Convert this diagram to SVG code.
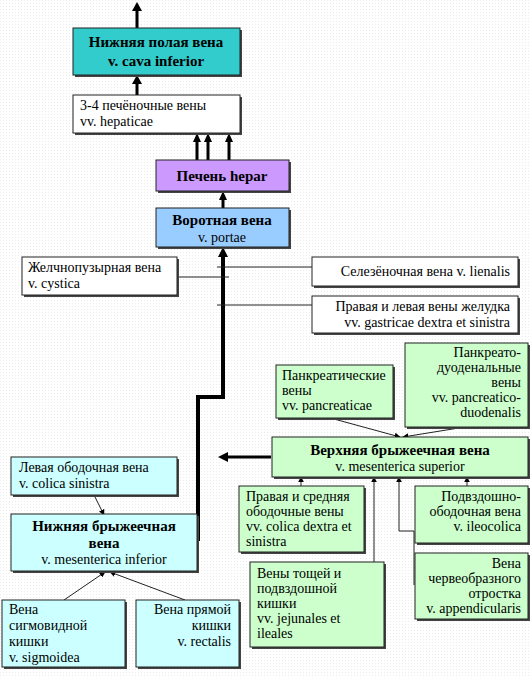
<svg xmlns="http://www.w3.org/2000/svg" width="530" height="677" viewBox="0 0 530 677">
<defs>
<pattern id="dots" width="3" height="3" patternUnits="userSpaceOnUse"><rect width="3" height="3" fill="#fff"/><rect width="1" height="1" fill="#ececec"/></pattern>
<marker id="ah" viewBox="0 0 10 10" refX="9" refY="5" markerWidth="6" markerHeight="6" markerUnits="userSpaceOnUse" orient="auto"><path d="M0,0 L10,5 L0,10 z" fill="#000"/></marker>
</defs>
<style>
.b{stroke:#222;stroke-width:1}
.sh{fill:#444}
text{font-family:'Liberation Serif','Times New Roman','DejaVu Serif',serif;fill:#000}
.t{font-size:14px}
.h{font-size:15px;font-weight:bold}
.c{text-anchor:middle}
.r{text-anchor:end}
.ln{stroke:#222;stroke-width:1;fill:none}
.tk{stroke:#000;stroke-width:4;fill:none}
.w{fill:#fff}.teal{fill:#33cccc}.lil{fill:#cc99ff}.blu{fill:#99ccff}.grn{fill:#ccffcc}.cyn{fill:#ccffff}
</style>
<rect width="530" height="677" fill="url(#dots)"/>
<g id="connectors">
<line x1="137" y1="28" x2="137" y2="10" style="stroke:#000;stroke-width:3"/>
<path d="M132,11 L137,2 L142,11 z"/>
<line x1="137" y1="96" x2="137" y2="83" style="stroke:#000;stroke-width:3"/>
<path d="M132,84 L137,75 L142,84 z"/>
<g style="stroke:#000;stroke-width:3">
<line x1="197" y1="161" x2="197" y2="141"/><line x1="208" y1="161" x2="208" y2="141"/><line x1="229" y1="161" x2="229" y2="141"/>
<line x1="223" y1="209" x2="223" y2="199"/>
</g>
<path d="M193,142 L197,133 L201,142 z M204,142 L208,133 L212,142 z M225,142 L229,133 L233,142 z M219,200 L223,191 L227,200 z"/>
<path class="tk" d="M223,256 V397 H198 V541"/>
<path d="M218,257 L223,247 L228,257 z"/>
<line class="ln" x1="177" y1="277" x2="229" y2="277"/>
<line class="ln" x1="312" y1="267" x2="217" y2="267"/>
<line class="ln" x1="312" y1="305" x2="217" y2="305"/>
<line x1="271" y1="457" x2="227" y2="457" style="stroke:#000;stroke-width:3"/>
<path d="M228,452 L218,457 L228,462 z"/>
<line class="ln" x1="334" y1="419" x2="400" y2="437" marker-end="url(#ah)"/>
<line class="ln" x1="465" y1="427" x2="403" y2="437" marker-end="url(#ah)"/>
<line class="ln" x1="301" y1="486" x2="301" y2="477" marker-end="url(#ah)"/>
<line class="ln" x1="374" y1="562" x2="374" y2="477" marker-end="url(#ah)"/>
<path class="ln" d="M414,585 V531 H399 V477" marker-end="url(#ah)"/>
<line class="ln" x1="467" y1="486" x2="467" y2="477" marker-end="url(#ah)"/>
<line class="ln" x1="95" y1="497" x2="104" y2="515" marker-end="url(#ah)"/>
<line class="ln" x1="64" y1="600" x2="105" y2="572" marker-end="url(#ah)"/>
<line class="ln" x1="185" y1="600" x2="110" y2="572" marker-end="url(#ah)"/>
</g>
<g id="ivc"><rect class="sh" x="75" y="30" width="167" height="47"/><rect class="b teal" x="73" y="28" width="167" height="47"/><text class="h c" x="156" y="47">Нижняя полая вена</text><text class="h c" x="156" y="66">v. cava inferior</text></g>
<g id="hepatic"><rect class="sh" x="75" y="97" width="167" height="38"/><rect class="b w" x="73" y="95" width="167" height="38"/><text class="t" x="80" y="110">3-4 печёночные вены</text><text class="t" x="80" y="126">vv. hepaticae</text></g>
<g id="liver"><rect class="sh" x="158" y="162" width="133" height="31"/><rect class="b lil" x="156" y="160" width="133" height="31"/><text class="h c" x="222" y="181">Печень hepar</text></g>
<g id="portal"><rect class="sh" x="158" y="210" width="133" height="39"/><rect class="b blu" x="156" y="208" width="133" height="39"/><text class="h c" x="222" y="225">Воротная вена</text><text class="t c" x="222" y="242">v. portae</text></g>
<g id="cystic"><rect class="sh" x="24" y="259" width="155" height="38"/><rect class="b w" x="22" y="257" width="155" height="38"/><text class="t" x="28" y="272">Желчнопузырная вена</text><text class="t" x="28" y="288">v. cystica</text></g>
<g id="lienal"><rect class="sh" x="314" y="259" width="206" height="29"/><rect class="b w" x="312" y="257" width="206" height="29"/><text class="t r" x="510" y="276">Селезёночная вена v. lienalis</text></g>
<g id="gastric"><rect class="sh" x="314" y="298" width="206" height="37"/><rect class="b w" x="312" y="296" width="206" height="37"/><text class="t r" x="510" y="311">Правая и левая вены желудка</text><text class="t r" x="510" y="327">vv. gastricae dextra et sinistra</text></g>
<g id="pancreatic"><rect class="sh" x="278" y="367" width="117" height="53"/><rect class="b grn" x="276" y="365" width="117" height="53"/><text class="t" x="282" y="380">Панкреатические</text><text class="t" x="282" y="395">вены</text><text class="t" x="282" y="410">vv. pancreaticae</text></g>
<g id="pancduod"><rect class="sh" x="407" y="345" width="123" height="84"/><rect class="b grn" x="405" y="343" width="123" height="84"/><text class="t r" x="521" y="357">Панкреато-</text><text class="t r" x="521" y="372">дуоденальные</text><text class="t r" x="521" y="387">вены</text><text class="t r" x="521" y="402">vv. pancreatico-</text><text class="t r" x="521" y="417">duodenalis</text></g>
<g id="smv"><rect class="sh" x="274" y="439" width="256" height="40"/><rect class="b grn" x="272" y="437" width="256" height="40"/><text class="h c" x="400" y="455">Верхняя брыжеечная вена</text><text class="t c" x="400" y="471">v. mesenterica superior</text></g>
<g id="colica"><rect class="sh" x="241" y="488" width="125" height="66"/><rect class="b grn" x="239" y="486" width="125" height="66"/><text class="t" x="246" y="501">Правая и средняя</text><text class="t" x="246" y="516">ободочные вены</text><text class="t" x="246" y="531">vv. colica dextra et</text><text class="t" x="246" y="546">sinistra</text></g>
<g id="jejunal"><rect class="sh" x="252" y="564" width="134" height="85"/><rect class="b grn" x="250" y="562" width="134" height="85"/><text class="t" x="257" y="578">Вены тощей и</text><text class="t" x="257" y="593">подвздошной</text><text class="t" x="257" y="608">кишки</text><text class="t" x="257" y="623">vv. jejunales et</text><text class="t" x="257" y="638">ileales</text></g>
<g id="ileocolic"><rect class="sh" x="417" y="488" width="113" height="57"/><rect class="b grn" x="415" y="486" width="113" height="57"/><text class="t r" x="521" y="501">Подвздошно-</text><text class="t r" x="521" y="516">ободочная вена</text><text class="t r" x="521" y="531">v. ileocolica</text></g>
<g id="append"><rect class="sh" x="417" y="555" width="113" height="66"/><rect class="b grn" x="415" y="553" width="113" height="66"/><text class="t r" x="521" y="568">Вена</text><text class="t r" x="521" y="583">червеобразного</text><text class="t r" x="521" y="598">отростка</text><text class="t r" x="521" y="613">v. appendicularis</text></g>
<g id="colsin"><rect class="sh" x="13" y="459" width="166" height="38"/><rect class="b cyn" x="11" y="457" width="166" height="38"/><text class="t" x="19" y="472">Левая ободочная вена</text><text class="t" x="19" y="488">v. colica sinistra</text></g>
<g id="imv"><rect class="sh" x="13" y="516" width="186" height="57"/><rect class="b cyn" x="11" y="514" width="186" height="57"/><text class="h c" x="104" y="531">Нижняя брыжеечная</text><text class="h c" x="104" y="548">вена</text><text class="t c" x="104" y="564">v. mesenterica inferior</text></g>
<g id="sigmoid"><rect class="sh" x="4" y="602" width="123" height="67"/><rect class="b cyn" x="2" y="600" width="123" height="67"/><text class="t" x="9" y="614">Вена</text><text class="t" x="9" y="630">сигмовидной</text><text class="t" x="9" y="646">кишки</text><text class="t" x="9" y="662">v. sigmoidea</text></g>
<g id="rectal"><rect class="sh" x="138" y="602" width="103" height="67"/><rect class="b cyn" x="136" y="600" width="103" height="67"/><text class="t r" x="231" y="614">Вена прямой</text><text class="t r" x="231" y="630">кишки</text><text class="t r" x="231" y="646">v. rectalis</text></g>
</svg>
